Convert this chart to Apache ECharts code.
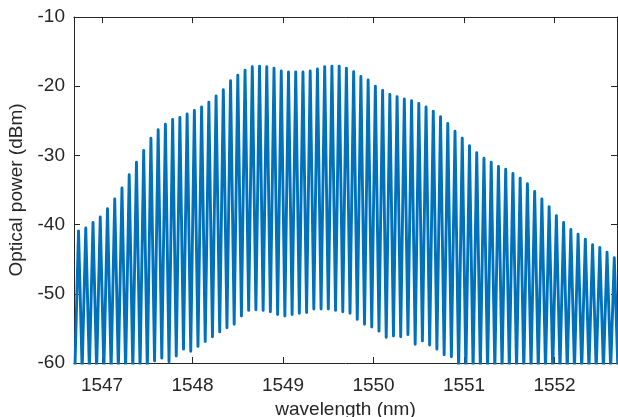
<!DOCTYPE html>
<html>
<head>
<meta charset="utf-8">
<script src="https://cdn.jsdelivr.net/npm/echarts@6/dist/echarts.min.js"></script>
<style>
  html, body { margin: 0; padding: 0; background: #fff; }
  #chart { width: 618px; height: 417px; }
</style>
</head>
<body>
<div id="chart"></div>
<script>
// comb line centre wavelengths (nm)
const peakWavelength = [
  1546.74, 1546.82, 1546.90, 1546.98, 1547.06, 1547.14, 1547.22, 1547.30, 1547.38, 1547.46,
  1547.54, 1547.62, 1547.70, 1547.78, 1547.86, 1547.94, 1548.02, 1548.10, 1548.18, 1548.26,
  1548.34, 1548.42, 1548.50, 1548.58, 1548.66, 1548.74, 1548.82, 1548.90, 1548.98, 1549.06,
  1549.14, 1549.22, 1549.30, 1549.38, 1549.46, 1549.54, 1549.62, 1549.70, 1549.78, 1549.86,
  1549.94, 1550.02, 1550.10, 1550.18, 1550.26, 1550.34, 1550.42, 1550.50, 1550.58, 1550.66,
  1550.74, 1550.82, 1550.90, 1550.98, 1551.06, 1551.14, 1551.22, 1551.30, 1551.38, 1551.46,
  1551.54, 1551.62, 1551.70, 1551.78, 1551.86, 1551.94, 1552.02, 1552.10, 1552.18, 1552.26,
  1552.34, 1552.42, 1552.50, 1552.58, 1552.66
];

// peak power of each comb line (dBm)
const peakPower = [
  -40.9, -40.5, -39.7, -38.9, -37.7, -36.3, -34.7, -32.8, -31.0, -29.3,
  -27.5, -26.3, -25.5, -24.8, -24.5, -24.0, -23.5, -23.0, -22.3, -21.4,
  -20.5, -19.2, -18.4, -17.7, -17.2, -17.1, -17.2, -17.4, -17.8, -17.95,
  -17.95, -17.95, -17.8, -17.5, -17.2, -17.1, -17.1, -17.4, -17.9, -18.6,
  -19.1, -20.0, -20.6, -21.2, -21.5, -21.85, -22.1, -22.5, -23.0, -23.6,
  -24.4, -25.4, -26.5, -27.5, -28.6, -29.6, -30.4, -31.0, -31.6, -32.0,
  -32.6, -33.3, -34.1, -35.2, -36.3, -37.4, -38.7, -39.7, -40.7, -41.4,
  -42.1, -42.9, -43.3, -44.0, -44.8
];

// floor between lines: first entry is left of line 0, last is right of line 74
const troughPower = [
  -61,
  -61, -61, -61, -61, -61, -61, -61, -61, -61, -61,
  -59.7, -59.3, -59.8, -59.0, -58.0, -58.3, -57.6, -56.9, -56.2, -55.5,
  -54.9, -54.4, -53.2, -52.4, -52.3, -52.4, -52.6, -53.0, -53.2, -53.0,
  -52.8, -52.7, -52.2, -52.2, -52.2, -52.4, -52.6, -52.8, -53.7, -54.4,
  -54.8, -55.4, -56.3, -56.1, -56.2, -55.9, -57.3, -56.8, -57.4, -58.0,
  -58.8, -59.1,
  -61, -61, -61, -61, -61, -61, -61, -61, -61, -61, -61,
  -61, -61, -61, -61, -61, -61, -61, -61, -61, -61, -61,
  -61
];

const xTicks = [1547, 1548, 1549, 1550, 1551, 1552];

// interleave floor / peak points into one trace
const trace = [];
const n = peakWavelength.length;
for (let i = 0; i < n; i++) {
  let tx;
  if (i === 0) tx = peakWavelength[0] - (peakWavelength[1] - peakWavelength[0]) / 2;
  else tx = (peakWavelength[i - 1] + peakWavelength[i]) / 2;
  trace.push([tx, troughPower[i]]);
  trace.push([peakWavelength[i], peakPower[i]]);
}
trace.push([peakWavelength[n - 1] + (peakWavelength[n - 1] - peakWavelength[n - 2]) / 2, troughPower[n]]);

const ink = '#262626';
const font = '"Liberation Sans", Arial, Helvetica, sans-serif';

const xBase = {
  type: 'value',
  min: 1546.69,
  max: 1552.69,
  splitLine: { show: false },
  axisLine: { show: true, onZero: false, lineStyle: { color: ink, width: 1 } },
  axisTick: { show: true, inside: true, length: 6, customValues: xTicks, lineStyle: { color: ink } }
};
const yBase = {
  type: 'value',
  min: -60,
  max: -10,
  interval: 10,
  splitLine: { show: false },
  axisLine: { show: true, onZero: false, lineStyle: { color: ink, width: 1 } },
  axisTick: { show: true, inside: true, length: 6, lineStyle: { color: ink } }
};

const chart = echarts.init(document.getElementById('chart'), null, { renderer: 'canvas' });
chart.setOption({
  animation: false,
  backgroundColor: '#fff',
  grid: { left: 74, right: 1, top: 17, bottom: 54, outerBoundsMode: 'none' },
  xAxis: [
    Object.assign({}, xBase, {
      position: 'bottom',
      name: 'wavelength (nm)',
      nameLocation: 'middle',
      nameGap: 34,
      nameTextStyle: { color: ink, fontSize: 19, fontFamily: font },
      axisLabel: {
        customValues: xTicks, color: ink, fontSize: 19, fontFamily: font, margin: 13,
        formatter: v => String(v)
      }
    }),
    Object.assign({}, xBase, { position: 'top', axisLabel: { show: false } })
  ],
  yAxis: [
    Object.assign({}, yBase, {
      position: 'left',
      name: 'Optical power (dBm)',
      nameLocation: 'middle',
      nameGap: 44,
      nameTextStyle: { color: ink, fontSize: 19, fontFamily: font },
      axisLabel: { color: ink, fontSize: 19, fontFamily: font, margin: 9 }
    }),
    Object.assign({}, yBase, { position: 'right', axisLabel: { show: false } })
  ],
  series: [{
    type: 'line',
    data: trace,
    xAxisIndex: 0,
    yAxisIndex: 0,
    showSymbol: false,
    symbol: 'none',
    sampling: 'none',
    clip: true,
    lineStyle: { color: '#0072BD', width: 2.9, join: 'round' }
  }]
});
</script>
</body>
</html>
